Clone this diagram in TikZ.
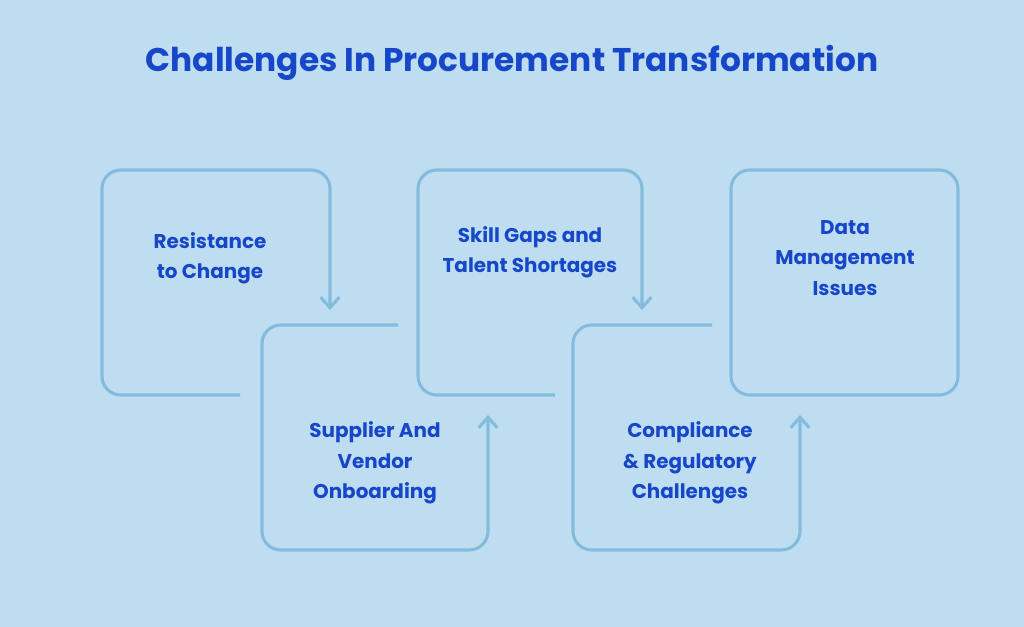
\documentclass[tikz,border=0pt]{standalone}
\usepackage{fontspec}
\setmainfont{Poppins}
\usetikzlibrary{arrows.meta}
\definecolor{bgblue}{HTML}{BFDDF0}
\definecolor{edgeblue}{HTML}{82BCDC}
\definecolor{textblue}{HTML}{1747C9}
\begin{document}
\begin{tikzpicture}[x=0.03cm,y=-0.03cm,
	boxline/.style={draw=edgeblue, line width=2.6pt, rounded corners=16pt},
	tip/.style={-{Straight Barb[length=9pt,width=16pt,line width=2.6pt]}},
	label/.style={text=textblue, font=\fontsize{17}{26}\selectfont\bfseries, align=center}]
		\fill[bgblue] (0,0) rectangle (1024,627);
		\node (title) [text=textblue, font=\fontsize{28}{32}\selectfont\bfseries] at (512,63) {Challenges In Procurement Transformation};
		% corners of the open boxes
		\coordinate (s1) at (240,395); \coordinate (e1) at (330,310);
		\coordinate (s2) at (398,325); \coordinate (e2) at (488,415);
		\coordinate (s3) at (555,395); \coordinate (e3) at (642,310);
		\coordinate (s4) at (712,325); \coordinate (e4) at (800,415);
		\draw[boxline,tip] (s1) -- (102,395) -- (102,170) -- (330,170) -- (e1);
		\draw[boxline,tip] (s2) -- (262,325) -- (262,550) -- (488,550) -- (e2);
		\draw[boxline,tip] (s3) -- (418,395) -- (418,170) -- (642,170) -- (e3);
		\draw[boxline,tip] (s4) -- (573,325) -- (573,550) -- (800,550) -- (e4);
		\draw[boxline] (731,170) rectangle (958,395);
		\node (t1) [label] at (210,258) {Resistance\\to Change};
		\node (t2) [label] at (375,463) {Supplier And\\Vendor\\Onboarding};
		\node (t3) [label] at (530,252) {Skill Gaps and\\Talent Shortages};
		\node (t4) [label] at (690,463) {Compliance\\\& Regulatory\\Challenges};
		\node (t5) [label] at (845,258) {Data\\Management\\Issues};
\end{tikzpicture}
\end{document}
